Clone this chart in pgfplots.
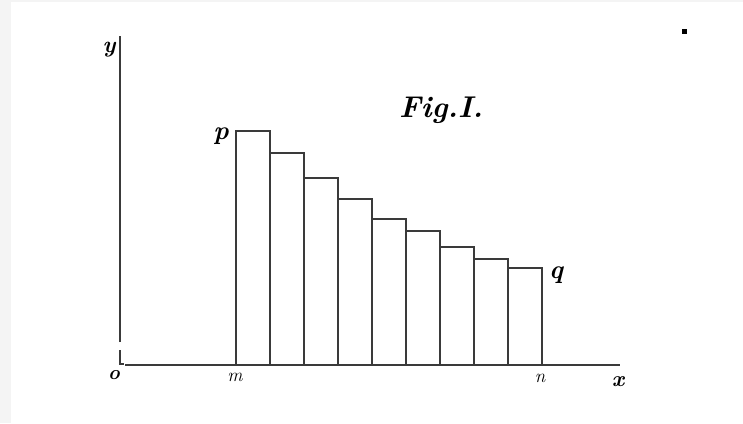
\documentclass[border=0pt]{standalone}
\usepackage{pgfplots}
\pgfplotsset{compat=1.18}
\definecolor{ink}{HTML}{3A3A3A}
\definecolor{paper}{HTML}{F4F4F4}
\begin{document}
\begin{tikzpicture}
  \begin{axis}[
      scale only axis,
      width=743pt, height=423pt,
      xmin=-120, xmax=623,
      ymin=-58, ymax=365,
      hide axis,
      clip=false,
    ]
    % page background (scan margin on the left)
    \fill[paper] (axis cs:-120,-58) rectangle (axis cs:623,365);
    \fill[white] (axis cs:-109,-58) rectangle (axis cs:623,363);

    % bars, left edges every 34 units from m to n
    \addplot[ybar interval, fill=white, draw=ink, line width=1.2pt] coordinates {
      (116,234) (150,212) (184,187) (218,166) (252,146)
      (286,134) (320,118) (354,106) (388,97) (422,97)
    };

    % axes
    \draw[ink, line width=1.3pt] (axis cs:5,0) -- (axis cs:500,0);
    \draw[ink, line width=1.3pt] (axis cs:0,23) -- (axis cs:0,329);
    \draw[ink, line width=1.3pt] (axis cs:0,15) -- (axis cs:0,1) -- (axis cs:4,1);

    % letters
    \node[font=\fontsize{23}{23}\selectfont\bfseries\itshape] at (axis cs:-11,315) {y};
    \node[font=\fontsize{20}{20}\selectfont\bfseries\itshape] at (axis cs:-6,-10) {o};
    \node[font=\fontsize{19}{19}\selectfont\itshape] at (axis cs:115,-12) {m};
    \node[font=\fontsize{19}{19}\selectfont\itshape] at (axis cs:420,-13) {n};
    \node[font=\fontsize{22}{22}\selectfont\bfseries\itshape] at (axis cs:498,-17) {x};
    \node[font=\fontsize{26}{26}\selectfont\bfseries\itshape] at (axis cs:101,229) {p};
    \node[font=\fontsize{26}{26}\selectfont\bfseries\itshape] at (axis cs:436,90) {q};
    \node[font=\fontsize{30}{30}\selectfont\bfseries\itshape] at (axis cs:321,255) {Fig.I.};
    \fill[black] (axis cs:561.5,330.5) rectangle (axis cs:566.5,335.5);
  \end{axis}
\end{tikzpicture}
\end{document}
